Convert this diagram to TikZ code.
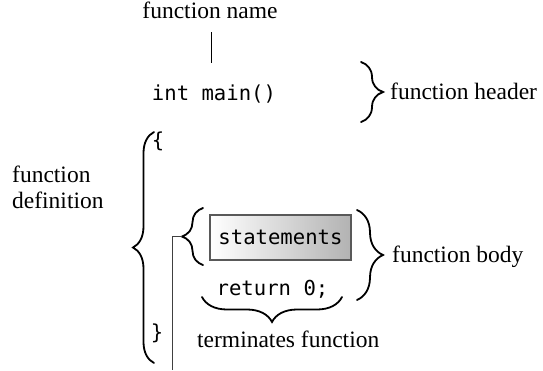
\documentclass[tikz,border=0pt]{standalone}
\usepackage{fontspec}
\setmainfont{Liberation Serif}
\setmonofont{DejaVu Sans Mono}
\usetikzlibrary{decorations.pathreplacing}
\tikzset{
  lbl/.style={inner sep=0pt, font=\fontsize{23.5}{26}\selectfont},
  code/.style={inner sep=0pt, font=\fontsize{20.6}{24}\selectfont\ttfamily},
  bracestyle/.style={decorate, line width=1.8pt, line cap=round, decoration={brace, amplitude=#1}},
  conn/.style={line width=1pt, draw=black!75},
  stmtbox/.style={draw=black!65, line width=1.4pt, left color=white, right color=black!30,
    minimum width=141pt, minimum height=45pt, inner sep=0pt, font=\fontsize{20.6}{24}\selectfont\ttfamily}
}
\begin{document}
\begin{tikzpicture}[x=1pt,y=1pt]
\useasboundingbox (0,0) rectangle (543,-370);
% texts
\node[lbl, anchor=base] (fname) at (210,-18) {function name};
\node[code, anchor=base] (main) at (214,-100) {int main()};
\node[lbl, anchor=base west] (fheader) at (390,-99) {function header};
\node[lbl, anchor=base west] (fdef) at (12,-182) {function};
\node[lbl, anchor=base west] (fdef2) at (12,-208) {definition};
\node[code, anchor=base] (lbrace) at (158,-147) {\{};
\node[code, anchor=base] (rbrace) at (157,-339) {\}};
\node[stmtbox] (stmts) at (280.5,-237.5) {statements};
\node[code, anchor=base] (ret) at (272.5,-295) {return 0;};
\node[lbl, anchor=base west] (term) at (197,-347) {terminates function};
\node[lbl, anchor=base west] (fbody) at (392,-262) {function body};
% name line
\coordinate (nl1) at (211,-32);
\coordinate (nl2) at (211,-63);
\draw[line width=1pt] (nl1) -- (nl2);
% braces
\coordinate (h1) at (361,-62);
\coordinate (h2) at (361,-122);
\draw[bracestyle=22pt] (h1) -- (h2);
\coordinate (d1) at (154,-363);
\coordinate (d2) at (154,-132);
\draw[bracestyle=21pt] (d1) -- (d2);
\coordinate (b1) at (203,-265);
\coordinate (b2) at (203,-208);
\draw[bracestyle=21pt] (b1) -- (b2);
\coordinate (r1) at (357,-210);
\coordinate (r2) at (357,-300);
\draw[bracestyle=26pt] (r1) -- (r2);
\coordinate (u1) at (342,-297);
\coordinate (u2) at (202,-297);
\draw[bracestyle=25pt] (u1) -- (u2);
% connector
\coordinate (btip) at (182,-236.5);
\coordinate (cend) at (172,-370);
\draw[conn] (btip) -| (cend);
\end{tikzpicture}
\end{document}
